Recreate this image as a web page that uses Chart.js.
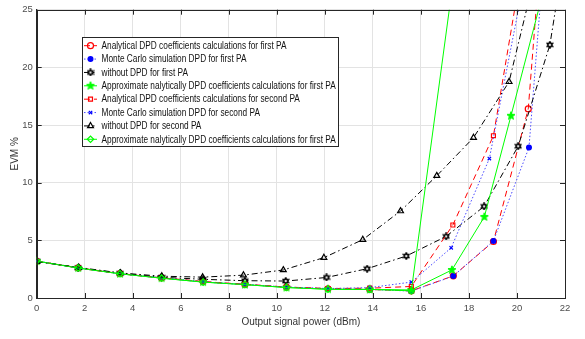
<!DOCTYPE html>
<html>
<head>
<meta charset="utf-8">
<script src="https://cdn.jsdelivr.net/npm/chart.js@4"></script>
<style>
  html, body { margin: 0; padding: 0; background: #fff; }
  #wrap { width: 585px; height: 339px; }
</style>
</head>
<body>
<div id="wrap"><canvas id="evm-chart"></canvas></div>
<script>
// --- data (x: dBm, y: EVM %) ---
const xDpd1      = [0, 1.73, 3.47, 5.2, 6.93, 8.67, 10.4, 12.13, 13.87, 15.6, 17.35, 19.02, 20.47, 21.9];
const analytic1  = [3.2, 2.62, 2.12, 1.75, 1.42, 1.18, 0.95, 0.8, 0.74, 0.62, 1.92, 4.9, 16.4, 54];
const xMc1       = [0, 1.73, 3.47, 5.2, 6.93, 8.67, 10.4, 12.13, 13.87, 15.6, 17.35, 19.02, 20.5, 21.9];
const monteC1    = [3.2, 2.6, 2.1, 1.74, 1.4, 1.17, 0.94, 0.8, 0.74, 0.6, 1.9, 4.95, 13.05, 50];
const xNoDpd1    = [0, 1.73, 3.47, 5.2, 6.93, 8.67, 10.37, 12.07, 13.76, 15.39, 17.05, 18.63, 20.05, 21.37, 22.6];
const noDpd1     = [3.2, 2.62, 2.15, 1.8, 1.62, 1.5, 1.47, 1.78, 2.54, 3.64, 5.34, 7.94, 13.16, 21.95, 38];
const xApprox1   = [0, 1.73, 3.47, 5.2, 6.93, 8.67, 10.4, 12.13, 13.87, 15.6, 17.29, 18.64, 19.75, 21.1];
const approx1    = [3.2, 2.6, 2.1, 1.72, 1.38, 1.16, 0.91, 0.76, 0.74, 0.7, 2.43, 7.03, 15.8, 26.6];
const xDpd2      = [0, 1.73, 3.47, 5.2, 6.93, 8.67, 10.4, 12.13, 13.87, 15.6, 17.33, 19.02, 20.7];
const analytic2  = [3.2, 2.6, 2.1, 1.75, 1.42, 1.18, 0.95, 0.82, 0.85, 1.0, 6.33, 14.07, 34.9];
const xMc2       = [0, 1.73, 3.47, 5.2, 6.93, 8.67, 10.4, 12.13, 13.87, 15.6, 17.26, 18.85, 20.5];
const monteC2    = [3.2, 2.6, 2.1, 1.74, 1.4, 1.17, 0.95, 0.82, 0.9, 1.38, 4.35, 12.09, 29.7];
const xNoDpd2    = [0, 1.75, 3.49, 5.21, 6.91, 8.61, 10.27, 11.96, 13.58, 15.15, 16.66, 18.19, 19.67, 21.1];
const noDpd2     = [3.15, 2.65, 2.17, 1.89, 1.81, 1.98, 2.43, 3.5, 5.06, 7.54, 10.6, 13.9, 18.75, 31];
const xApprox2   = [0, 1.73, 3.47, 5.2, 6.93, 8.67, 10.4, 12.13, 13.87, 15.6, 17.33];
const approx2    = [3.2, 2.6, 2.1, 1.72, 1.38, 1.16, 0.91, 0.76, 0.75, 0.62, 27.3];

const LABELS = [
  'Analytical DPD coefficients calculations for first PA',
  'Monte Carlo simulation DPD for first PA',
  'without DPD for first PA',
  'Approximate nalytically DPD coefficients calculations for first PA',
  'Analytical DPD coefficients calculations for second PA',
  'Monte Carlo simulation DPD for second PA',
  'without DPD for second PA',
  'Approximate nalytically DPD coefficients calculations for first PA',
];

const X_TICKS = [0, 2, 4, 6, 8, 10, 12, 14, 16, 18, 20, 22];
const Y_TICKS = [0, 5, 10, 15, 20, 25];

const RED   = '#ff0000';
const BLUE  = '#4a4aff';
const BLACK = '#000000';
const GREEN = '#00ff00';
const DASH     = [6, 4];
const DOT      = [1.5, 2];
const DASHDOT  = [6, 3, 1.5, 3];

// star markers drawn once on small canvases
function starMarker(size, points, outer, inner, fill, stroke, lw) {
  const c = document.createElement('canvas');
  c.width = size; c.height = size;
  const g = c.getContext('2d');
  g.beginPath();
  for (let i = 0; i < points * 2; i++) {
    const r = i % 2 ? inner : outer;
    const a = -Math.PI / 2 + i * Math.PI / points;
    const px = size / 2 + r * Math.cos(a), py = size / 2 + r * Math.sin(a);
    i ? g.lineTo(px, py) : g.moveTo(px, py);
  }
  g.closePath();
  g.fillStyle = fill; g.fill();
  g.strokeStyle = stroke; g.lineWidth = lw; g.stroke();
  return c;
}
const hexStar  = starMarker(8, 6, 3.1, 1.8, '#ffffff', BLACK, 1.5);
const pentStar = starMarker(10, 5, 4.2, 1.8, GREEN, GREEN, 1);

const pts = (xs, ys) => xs.map((x, i) => ({ x, y: ys[i] }));

const datasets = [
  { label: LABELS[0], data: pts(xDpd1, analytic1), borderColor: RED, borderDash: DASH,
    pointStyle: 'circle', pointRadius: 3, pointBackgroundColor: 'rgba(0,0,0,0)', pointBorderColor: RED },
  { label: LABELS[1], data: pts(xMc1, monteC1), borderColor: BLUE, borderDash: DOT,
    pointStyle: 'circle', pointRadius: 2.4, pointBackgroundColor: '#0000ff', pointBorderColor: '#0000ff' },
  { label: LABELS[2], data: pts(xNoDpd1, noDpd1), borderColor: BLACK, borderDash: DASHDOT,
    pointStyle: hexStar, pointBorderColor: BLACK },
  { label: LABELS[3], data: pts(xApprox1, approx1), borderColor: GREEN, borderDash: [],
    pointStyle: pentStar, pointBorderColor: GREEN },
  { label: LABELS[4], data: pts(xDpd2, analytic2), borderColor: RED, borderDash: DASH,
    pointStyle: 'rect', pointRadius: 2.8, pointBackgroundColor: 'rgba(0,0,0,0)', pointBorderColor: RED },
  { label: LABELS[5], data: pts(xMc2, monteC2), borderColor: BLUE, borderDash: DOT,
    pointStyle: 'crossRot', pointRadius: 2.4, pointBorderColor: '#0000ff' },
  { label: LABELS[6], data: pts(xNoDpd2, noDpd2), borderColor: BLACK, borderDash: DASHDOT,
    pointStyle: 'triangle', pointRadius: 3.4, pointBackgroundColor: 'rgba(0,0,0,0)', pointBorderColor: BLACK },
  { label: LABELS[7], data: pts(xApprox2, approx2), borderColor: GREEN, borderDash: [],
    pointStyle: 'rectRot', pointRadius: 3.2, pointBackgroundColor: 'rgba(0,0,0,0)', pointBorderColor: GREEN },
].map((d, i) => Object.assign({
  borderWidth: 1, pointBorderWidth: 1.2, tension: 0, fill: false,
  order: 8 - i, // later series on top, like the original plot
}, d));

// box, inward ticks and the in-plot legend
const matlabFrame = {
  id: 'matlabFrame',
  afterDatasetsDraw(chart) {
    const { ctx, chartArea: a, scales } = chart;
    ctx.save();
    ctx.strokeStyle = '#262626';
    ctx.lineWidth = 1;
    ctx.beginPath();
    X_TICKS.forEach((v) => {
      const px = Math.round(scales.x.getPixelForValue(v)) + 0.5;
      ctx.moveTo(px, a.bottom); ctx.lineTo(px, a.bottom - 5);
      ctx.moveTo(px, a.top);    ctx.lineTo(px, a.top + 5);
    });
    Y_TICKS.forEach((v) => {
      const py = Math.round(scales.y.getPixelForValue(v)) + 0.5;
      ctx.moveTo(a.left, py);  ctx.lineTo(a.left + 5, py);
      ctx.moveTo(a.right, py); ctx.lineTo(a.right - 5, py);
    });
    ctx.stroke();
    ctx.strokeRect(Math.round(a.left) + 0.5, Math.round(a.top) + 0.5,
                   Math.round(a.right - a.left), Math.round(a.bottom - a.top));

    // legend
    const bx = 82.5, by = 37.5, bw = 256, bh = 109;
    ctx.fillStyle = '#fff';
    ctx.fillRect(bx, by, bw, bh);
    ctx.strokeRect(bx, by, bw, bh);
    ctx.font = '10px "Liberation Sans", Arial, sans-serif';
    const sx = 185 / ctx.measureText(LABELS[0]).width;
    chart.data.datasets.forEach((ds, i) => {
      const y = 45.7 + i * 13.37;
      ctx.save();
      ctx.strokeStyle = ds.borderColor;
      ctx.lineWidth = 1;
      ctx.setLineDash(ds.borderDash);
      ctx.beginPath(); ctx.moveTo(84, y); ctx.lineTo(97, y); ctx.stroke();
      ctx.setLineDash([]);
      ctx.fillStyle = ds.pointBackgroundColor || ds.borderColor;
      ctx.strokeStyle = ds.pointBorderColor;
      ctx.lineWidth = 1.2;
      Chart.helpers.drawPoint(ctx, {
        pointStyle: ds.pointStyle, radius: ds.pointRadius || 3, borderWidth: 1.2, rotation: 0,
      }, 90.5, y);
      ctx.restore();
      ctx.save();
      ctx.translate(101.5, y);
      ctx.scale(sx, 1);
      ctx.fillStyle = '#111';
      ctx.textBaseline = 'middle';
      ctx.fillText(ds.label, 0, 0.5);
      ctx.restore();
    });
    ctx.restore();
  },
};

new Chart(document.getElementById('evm-chart'), {
  type: 'line',
  data: { datasets },
  plugins: [matlabFrame],
  options: {
    responsive: true,
    maintainAspectRatio: false,
    animation: false,
    layout: { padding: { top: 3, right: 20, left: 0, bottom: 0 } },
    plugins: { legend: { display: false }, tooltip: { enabled: false } },
    scales: {
      x: {
        type: 'linear', min: 0, max: 22,
        afterBuildTicks: (s) => { s.ticks = X_TICKS.map((v) => ({ value: v })); },
        afterFit: (s) => { s.height = 41; },
        grid: { color: '#e3e3e3', drawTicks: false },
        border: { color: '#262626' },
        ticks: { padding: 5, color: '#4d4d4d', font: { family: 'Liberation Sans', size: 9.5 } },
        title: { display: true, text: 'Output signal power (dBm)', color: '#333',
                 font: { family: 'Liberation Sans', size: 10 }, padding: { top: 2, bottom: 11 } },
      },
      y: {
        type: 'linear', min: 0, max: 25,
        afterBuildTicks: (s) => { s.ticks = Y_TICKS.map((v) => ({ value: v })); },
        afterFit: (s) => { s.width = 36.7; },
        grid: { color: '#e3e3e3', drawTicks: false },
        border: { color: '#262626' },
        ticks: { padding: 4, color: '#4d4d4d', font: { family: 'Liberation Sans', size: 9.5 } },
        title: { display: true, text: 'EVM %', color: '#333',
                 font: { family: 'Liberation Sans', size: 10 }, padding: { top: 9, bottom: 4 } },
      },
    },
  },
});
</script>
</body>
</html>
